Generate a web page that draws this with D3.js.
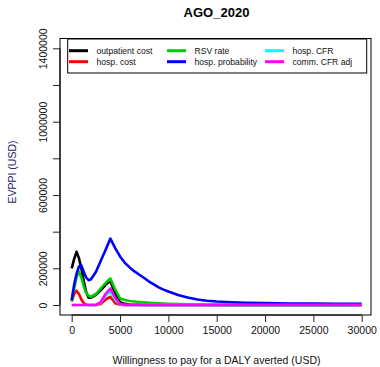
<!DOCTYPE html>
<html>
<head>
<meta charset="utf-8">
<script src="https://cdn.jsdelivr.net/npm/d3@7"></script>
<style>
  body { margin: 0; background: #fff; }
  text { font-family: "Liberation Sans", Arial, sans-serif; }
</style>
</head>
<body>
<div class="vis"></div>
<script>
// willingness to pay grid (USD)
const wtp = [0, 250, 500, 750, 1000, 1250, 1500, 1750, 2000, 2500, 3000, 3500, 4000, 4500, 5000,
             5500, 6000, 6500, 7000, 7500, 8000, 8500, 9000, 9500, 10000,
             11000, 12000, 13000, 14000, 15000, 16000, 18000, 20000, 22500, 25000, 27500, 30000]

const outpatientCost = [200000, 250000, 290000, 255000, 200000, 130000, 70000, 40000, 40000, 55000, 80000, 110000, 132000, 60000, 15000,
                        6000, 3000, 1500, 1000, 500, 0, 0, 0, 0, 0,
                        0, 0, 0, 0, 0, 0, 0, 0, 0, 0, 0, 0]
const hospCost = [18000, 60000, 78000, 60000, 30000, 10000, 2000, 0, 0, 0, 5000, 30000, 45000, 10000, 1000,
                  0, 0, 0, 0, 0, 0, 0, 0, 0, 0,
                  0, 0, 0, 0, 0, 0, 0, 0, 0, 0, 0, 0]
const rsvRate = [20000, 90000, 150000, 182000, 150000, 100000, 65000, 50000, 45000, 60000, 90000, 120000, 145000, 85000, 35000,
                 27000, 22000, 19000, 16500, 14500, 12500, 11000, 9500, 8000, 7000,
                 5000, 3500, 2000, 1200, 600, 300, 0, 0, 0, 0, 0, 0]
const hospProb = [27000, 110000, 170000, 210000, 215000, 180000, 150000, 135000, 140000, 180000, 240000, 300000, 362000, 310000, 265000,
                  230000, 205000, 183000, 165000, 147000, 128000, 112000, 96000, 84000, 74000,
                  55000, 41000, 30000, 23500, 19000, 16000, 12000, 10000, 8500, 7500, 7000, 6500]
const hospCFR = [0, 0, 0, 0, 0, 0, 0, 0, 0, 0, 12000, 50000, 75000, 30000, 3000,
                 0, 0, 0, 0, 0, 0, 0, 0, 0, 0,
                 0, 0, 0, 0, 0, 0, 0, 0, 0, 0, 0, 0]
const commCFR = [0, 0, 0, 0, 0, 0, 0, 0, 0, 0, 15000, 60000, 90000, 40000, 5000,
                 0, 0, 0, 0, 0, 0, 0, 0, 0, 0,
                 0, 0, 0, 0, 0, 0, 0, 0, 0, 0, 0, 0]

const seriesNames = ['outpatient cost', 'hosp. cost', 'RSV rate', 'hosp. probability', 'hosp. CFR', 'comm. CFR adj']
const seriesColors = ['#000000', '#ff0000', '#00cd00', '#0000ff', '#00ffff', '#ff00ff']
const seriesValues = [outpatientCost, hospCost, rsvRate, hospProb, hospCFR, commCFR]

const xTicks = [0, 5000, 10000, 15000, 20000, 25000, 30000]
const yTicks = [0, 200000, 400000, 600000, 800000, 1000000, 1200000, 1400000]
const yLabelled = [0, 200000, 600000, 1000000, 1400000]

const w = 380
const h = 367
const box = {left: 60, right: 371, top: 38.5, bottom: 315}

const svg = d3.select('.vis')
                .append('svg')
                .attr('width', w)
                .attr('height', h)

const xScale = d3.scaleLinear()
                    .domain([0, 30000])
                    .range([71.7, 361.7])
const yScale = d3.scaleLinear()
                    .domain([0, 1400000])
                    .range([305, 48.3])

// 曲线
const line = d3.line()
                .x((d) => xScale(d[0]))
                .y((d) => yScale(d[1]))

seriesValues.forEach((vals, k) => {
    svg.append('path')
        .datum(wtp.map((x, i) => [x, vals[i]]))
        .attr('d', line)
        .attr('fill', 'none')
        .attr('stroke', seriesColors[k])
        .attr('stroke-width', 2.6)
        .attr('stroke-linejoin', 'round')
})

// 外框
svg.append('rect')
    .attr('x', box.left)
    .attr('y', box.top)
    .attr('width', box.right - box.left)
    .attr('height', box.bottom - box.top)
    .attr('fill', 'none')
    .attr('stroke', '#000')
    .attr('stroke-width', 1)

// 坐标轴
const xAxis = d3.axisBottom(xScale).tickValues(xTicks).tickSize(7).tickPadding(5).tickFormat(d3.format('d'))
const yAxis = d3.axisLeft(yScale).tickValues(yTicks).tickSize(7)
                .tickFormat((d) => yLabelled.includes(d) ? d3.format('d')(d) : '')

const gx = svg.append('g')
    .attr('class', 'x-axis')
    .attr('transform', 'translate(0,' + box.bottom + ')')
    .call(xAxis)
gx.select('.domain').attr('d', 'M' + xScale(0) + ',0H' + xScale(30000))
gx.selectAll('text').attr('font-size', 10.5).attr('fill', '#111')
gx.selectAll('line').attr('stroke', '#222')

const gy = svg.append('g')
    .attr('class', 'y-axis')
    .attr('transform', 'translate(' + box.left + ',0)')
    .call(yAxis)
gy.select('.domain').attr('d', 'M0,' + yScale(0) + 'V' + yScale(1400000))
gy.selectAll('line').attr('stroke', '#222')
gy.selectAll('text')
    .attr('font-size', 10.5)
    .attr('fill', '#111')
    .attr('x', null)
    .attr('dy', null)
    .attr('text-anchor', 'middle')
    .attr('transform', 'translate(-13,0) rotate(-90)')

// 图例
const legend = svg.append('g')
legend.append('rect')
    .attr('x', 67.7)
    .attr('y', box.top + 0.5)
    .attr('width', 299)
    .attr('height', 34)
    .attr('fill', '#fff')
    .attr('stroke', '#000')
    .attr('stroke-width', 1)

const colX = [69, 167, 265]
const rowY = [50.7, 61.7]
seriesNames.forEach((name, k) => {
    const cx = colX[Math.floor(k / 2)]
    const cy = rowY[k % 2]
    legend.append('line')
        .attr('x1', cx).attr('x2', cx + 19)
        .attr('y1', cy).attr('y2', cy)
        .attr('stroke', seriesColors[k])
        .attr('stroke-width', 3)
    legend.append('text')
        .attr('x', cx + 27.5)
        .attr('y', cy + 3)
        .attr('font-size', 8.6)
        .attr('fill', '#111')
        .text(name)
})

// 标题和轴说明
svg.append('text')
    .attr('x', 216.5)
    .attr('y', 17)
    .attr('text-anchor', 'middle')
    .attr('font-size', 13)
    .attr('font-weight', 'bold')
    .text('AGO_2020')

svg.append('text')
    .attr('x', 216.5)
    .attr('y', 364)
    .attr('text-anchor', 'middle')
    .attr('font-size', 10.5)
    .attr('fill', '#111')
    .text('Willingness to pay for a DALY averted (USD)')

svg.append('text')
    .attr('transform', 'translate(16,172) rotate(-90)')
    .attr('text-anchor', 'middle')
    .attr('font-size', 10.5)
    .attr('fill', '#1c1c66')
    .text('EVPPI (USD)')
</script>
</body>
</html>
